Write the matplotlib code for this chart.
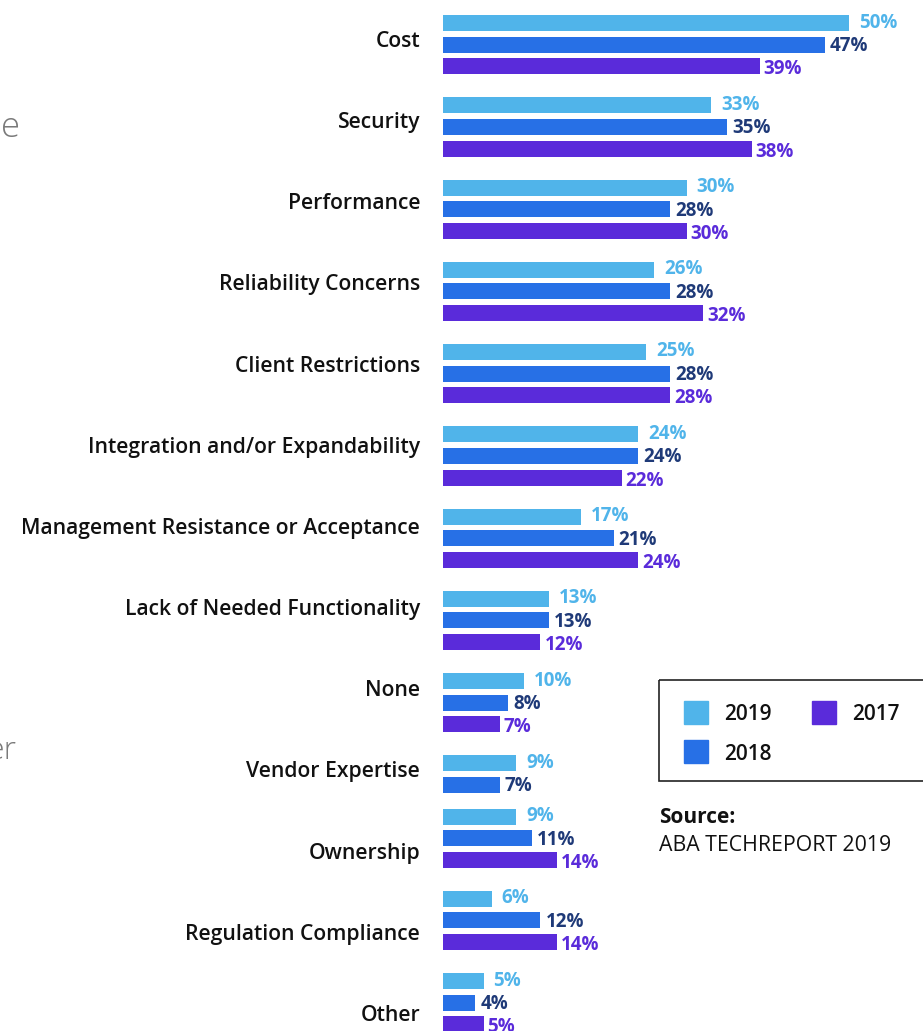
import matplotlib
matplotlib.use("Agg")
import matplotlib.pyplot as plt
from matplotlib.patches import Rectangle

plt.rcParams["font.family"] = ["Open Sans", "DejaVu Sans"]

categories = [
    "Cost", "Security", "Performance", "Reliability Concerns", "Client Restrictions",
    "Integration and/or Expandability", "Management Resistance or Acceptance",
    "Lack of Needed Functionality", "None", "Vendor Expertise", "Ownership",
    "Regulation Compliance", "Other",
]
years = ["2019", "2018", "2017"]
v2019 = [50, 33, 30, 26, 25, 24, 17, 13, 10, 9, 9, 6, 5]
v2018 = [47, 35, 28, 28, 28, 24, 21, 13, 8, 7, 11, 12, 4]
v2017 = [39, 38, 30, 32, 28, 22, 24, 12, 7, None, 14, 14, 5]
source_title = "Source:"
source_text = "ABA TECHREPORT 2019"

bar_colors = ["#50B4EA", "#2770E6", "#5A2BDA"]
label_colors = ["#50B4EA", "#1F3A78", "#5A2BDA"]

# layout in pixels
W, H = 923, 1031
X0 = 443
PX_PER_PCT = 8.12
BAR_H = 16
BAR_PITCH = 21.7
GROUP_TOP0 = 15
GROUP_PITCH = 82.25
MISSING_SHIFT = 29
LABEL_Y0 = 39
LABEL_PITCH = 81.15


def px_x(p):
    return (p - X0) / PX_PER_PCT


fig = plt.figure(figsize=(W / 100, H / 100), dpi=100)
ax = fig.add_axes([0, 0, 1, 1])
ax.set_xlim(px_x(0), px_x(W))
ax.set_ylim(H, 0)
ax.axis("off")

series = [v2019, v2018, v2017]
label_offset = [10, 5, 4]
label_shift = [-2, 0, 1.5]
missing = 0
for i, cat in enumerate(categories):
    top = GROUP_TOP0 + GROUP_PITCH * i - MISSING_SHIFT * missing
    present = [(s, vals[i]) for s, vals in enumerate(series) if vals[i] is not None]
    missing += len(series) - len(present)
    for k, (s, v) in enumerate(present):
        yc = top + BAR_H / 2 + k * BAR_PITCH
        ax.barh(yc, v, height=BAR_H, left=0, color=bar_colors[s], linewidth=0)
        ax.text(v + label_offset[s] / PX_PER_PCT, yc + 6.5 + label_shift[s], f"{v}%",
                ha="left", va="baseline", fontsize=13.5, fontweight="bold",
                color=label_colors[s])
    ax.text(px_x(420), LABEL_Y0 + LABEL_PITCH * i + 8, cat, ha="right", va="baseline",
            fontsize=15.2, fontweight="semibold", color="#111111")

# cut-off text from neighbouring panel
ax.text(px_x(1), 137, "e", ha="left", va="baseline", fontsize=25,
        fontweight="light", color="#7a7a7a")
ax.text(px_x(-14), 759, "er", ha="left", va="baseline", fontsize=23,
        fontweight="light", color="#7a7a7a")

# legend box
ax.add_patch(Rectangle((px_x(659), 680), px_x(940) - px_x(659), 101, fill=False,
                       edgecolor="#222222", linewidth=1.2, clip_on=False))
legend_pos = [(684, 701), (684, 740), (812, 701)]
for s, (lx, ly) in enumerate(legend_pos):
    ax.add_patch(Rectangle((px_x(lx), ly), 24 / PX_PER_PCT, 23, color=bar_colors[s]))
    ax.text(px_x(lx + 40), ly + 19.5, years[s], ha="left", va="baseline", fontsize=15,
            fontweight="semibold", color="#111111")

ax.text(px_x(659), 823, source_title, ha="left", va="baseline", fontsize=15,
        fontweight="bold", color="#111111")
ax.text(px_x(659), 851, source_text, ha="left", va="baseline", fontsize=15.3,
        color="#111111")

fig.savefig("out.png", dpi=100)
